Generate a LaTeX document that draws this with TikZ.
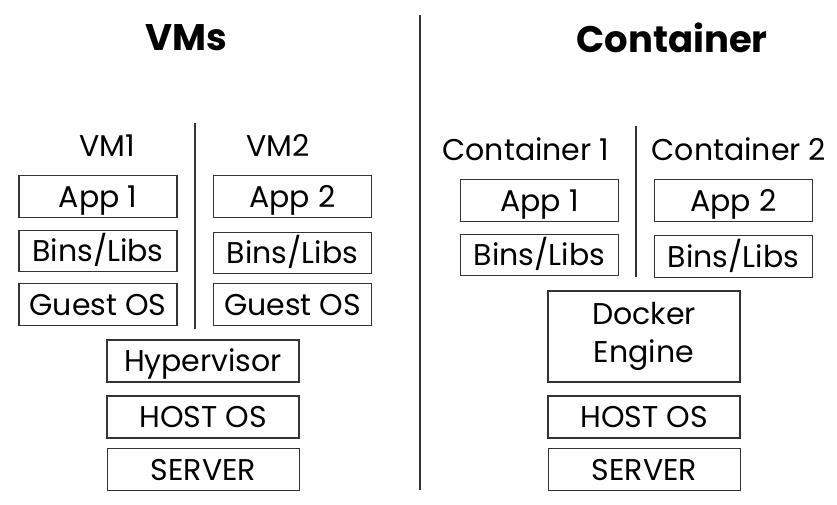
\documentclass[tikz,border=0pt]{standalone}
\usepackage{fontspec}
\setmainfont{Poppins}
\begin{document}
\begin{tikzpicture}[x=1pt,y=-1pt,
  box/.style={draw=black!80, line width=1.3pt, inner sep=0pt, font=\fontsize{30}{33}\selectfont},
  sbox/.style={box, minimum width=158pt, minimum height=41.5pt, text height=21pt, text depth=0pt},
  wbox/.style={box, minimum width=192pt, minimum height=42pt, text height=21pt, text depth=0pt},
  title/.style={font=\bfseries\fontsize{37}{40}\selectfont},
  sub/.style={font=\fontsize{30}{33}\selectfont, text height=22pt, text depth=0pt, inner sep=0pt},
  divider/.style={draw=black!80, line width=1.3pt}]
\useasboundingbox (0,0) rectangle (837,504);
% titles
\node[title] (tvm) at (186,38) {VMs};
\node[title] (tct) at (672,38) {Container};
% main divider
\coordinate (mtop) at (420,15);
\coordinate (mbot) at (420,490);
\draw[divider] (mtop) -- (mbot);
% VMs side
\node[sub] (vm1) at (107,145) {VM1};
\node[sub] (vm2) at (278,145) {VM2};
\coordinate (vdtop) at (195,123);
\coordinate (vdbot) at (195,329);
\draw[divider] (vdtop) -- (vdbot);
\node[sbox] (app1) at (98,196.5) {App 1};
\node[sbox] (bins1) at (98,251) {Bins/Libs};
\node[sbox] (guest1) at (98,304.5) {Guest OS};
\node[sbox] (app2) at (292.5,196.5) {App 2};
\node[sbox] (bins2) at (292.5,253) {Bins/Libs};
\node[sbox] (guest2) at (292.5,304.5) {Guest OS};
\node[wbox] (hyper) at (203,361) {Hypervisor};
\node[wbox] (hostL) at (203,417) {HOST OS};
\node[wbox] (servL) at (203.5,469.5) {SERVER};
% Container side
\node[sub] (c1) at (526,149) {Container 1};
\node[sub] (c2) at (739,149) {Container 2};
\coordinate (cdtop) at (636,126);
\coordinate (cdbot) at (636,277);
\draw[divider] (cdtop) -- (cdbot);
\node[sbox] (capp1) at (539.5,200.5) {App 1};
\node[sbox] (cbins1) at (539.5,255) {Bins/Libs};
\node[sbox] (capp2) at (733.5,200.5) {App 2};
\node[sbox] (cbins2) at (733.5,256.5) {Bins/Libs};
\node[box, minimum width=192pt, minimum height=91pt, align=center] (docker) at (644,336.5) {Docker\\[5pt]Engine};
\node[wbox] (hostR) at (644,417) {HOST OS};
\node[wbox] (servR) at (644.5,469.5) {SERVER};
\end{tikzpicture}
\end{document}
